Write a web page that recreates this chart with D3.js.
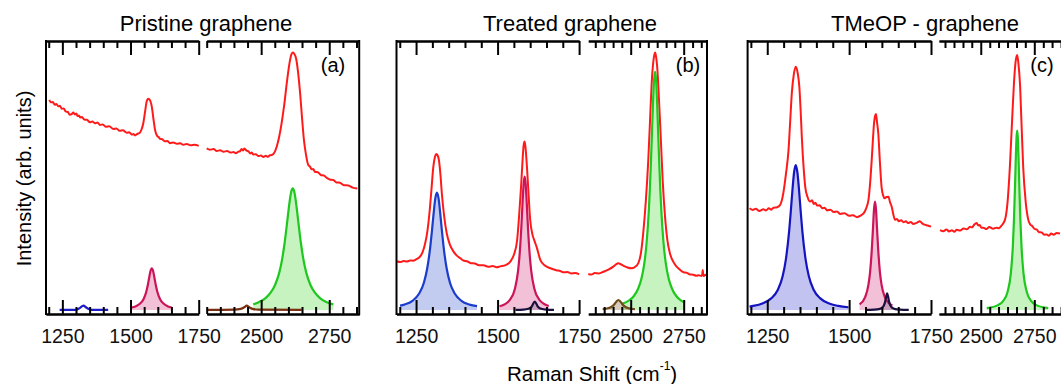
<!DOCTYPE html>
<html>
<head>
<meta charset="utf-8">
<script src="https://cdn.jsdelivr.net/npm/d3@7"></script>
<style>
  body { margin: 0; background: #fff; }
  svg { font-family: "Liberation Sans", Arial, sans-serif; }
  .axis .domain, .axis line { stroke: #000; stroke-width: 2; }
</style>
</head>
<body>
<div id="chart"></div>
<script>
// ---- data: [Raman shift (cm-1), intensity (arb.)] ----
var panelTitles = ["Pristine graphene", "Treated graphene", "TMeOP - graphene"];
var panelTags = ["(a)", "(b)", "(c)"];

var lowMajorTicks = [1250, 1500, 1750];
var lowMinorTicks = [1200, 1300, 1350, 1400, 1450, 1550, 1600, 1650, 1700];
var highMajorTicks = [2500, 2750];
var highMinorTicksA = [2300, 2350, 2400, 2450, 2550, 2600, 2650, 2700, 2800, 2850];
var highMinorTicksBC = [2333, 2375, 2417, 2458, 2542, 2583, 2625, 2667, 2708, 2792, 2833, 2875];

// panel (a)
var redLowA = [[1202,78.1],[1208,77.2],[1215,77.3],[1222,76.3],[1228,76.6],[1235,75.7],[1241,75.9],[1248,74.8],[1255,74.9],[1262,73.8],[1270,73.6],[1277,72.6],[1284,72.8],[1290,73.4],[1296,72.7],[1301,73.0],[1306,72.1],[1311,72.3],[1315,71.6],[1322,71.7],[1330,70.8],[1340,70.7],[1351,69.8],[1360,70.1],[1370,69.4],[1379,69.7],[1388,68.8],[1398,69.0],[1410,68.1],[1422,68.3],[1437,67.3],[1448,67.5],[1460,66.6],[1472,66.8],[1486,65.9],[1495,66.1],[1505,65.2],[1511,65.4],[1516,64.9],[1526,65.5],[1532,65.7],[1540,67.0],[1547,69.5],[1553,73.5],[1559,77.4],[1565,78.5],[1568,78.4],[1573,77.6],[1578,75.6],[1584,71.0],[1590,66.9],[1598,64.6],[1604,64.2],[1608,63.6],[1616,63.5],[1625,62.7],[1635,62.8],[1645,62.0],[1657,62.3],[1670,61.8],[1682,62.0],[1693,61.4],[1706,61.7],[1720,61.2],[1735,61.4],[1750,61.0]];
var redHighA = [[2300,60.1],[2312,59.6],[2325,59.8],[2337,59.1],[2349,59.4],[2362,58.8],[2375,59.1],[2387,58.5],[2398,58.7],[2407,58.3],[2415,58.8],[2422,59.0],[2428,59.8],[2433,59.3],[2438,60.0],[2447,59.2],[2454,58.9],[2460,58.2],[2466,58.5],[2471,57.8],[2480,57.9],[2490,57.2],[2499,57.4],[2508,56.9],[2517,57.3],[2525,57.0],[2532,57.5],[2539,57.6],[2550,58.8],[2557,60.7],[2566,64.3],[2575,69.4],[2585,76.5],[2594,84.3],[2600,89.0],[2606,92.9],[2611,95.0],[2616,95.7],[2622,95.2],[2628,93.6],[2636,88.0],[2643,80.6],[2650,71.5],[2657,63.2],[2665,57.5],[2673,53.9],[2680,53.2],[2685,52.3],[2691,52.4],[2698,51.3],[2708,51.2],[2720,50.1],[2730,50.0],[2741,49.1],[2752,48.5],[2765,48.3],[2777,47.4],[2789,47.3],[2804,46.4],[2820,46.3],[2836,45.5],[2853,45.2]];
var dBandA = [[1240,0],[1290,0],[1305,0.2],[1315,0.8],[1327,1.6],[1339,0.8],[1350,0.2],[1365,0],[1418,0]];
var gBandA = [[1504,0.9],[1518,1.3],[1533,2.2],[1548,4.1],[1558,6.9],[1563,9.1],[1568,11.8],[1573,14.4],[1578,15.5],[1583,14.4],[1588,11.8],[1593,9.1],[1598,6.9],[1608,4.1],[1623,2.2],[1638,1.3],[1651,0.9]];
var dgBandA = [[2300,0],[2400,0.1],[2425,0.4],[2438,1.0],[2447,1.6],[2456,1.0],[2468,0.4],[2490,0.1],[2649,0]];
var twoDBandA = [[2471,2.1],[2491,2.9],[2516,4.4],[2536,6.6],[2551,9.3],[2566,13.7],[2576,18.3],[2586,24.8],[2596,33.1],[2601,37.5],[2606,41.4],[2611,44.2],[2616,45.2],[2621,44.2],[2626,41.4],[2631,37.5],[2636,33.1],[2646,24.8],[2656,18.3],[2666,13.7],[2681,9.3],[2696,6.6],[2716,4.4],[2741,2.9],[2765,2.1]];

// panel (b)
var redLowB = [[1192,18.1],[1201,17.8],[1212,18.2],[1222,18.0],[1232,18.4],[1241,18.3],[1250,18.8],[1262,19.8],[1270,21.5],[1278,24.8],[1285,29.5],[1291,35.9],[1297,44.5],[1303,53.3],[1308,57.0],[1312,58.0],[1316,57.5],[1320,55.8],[1325,50.0],[1329,43.4],[1336,35.0],[1344,28.5],[1354,24.2],[1365,21.7],[1375,20.2],[1385,19.3],[1395,18.4],[1406,18.1],[1418,17.4],[1430,17.3],[1443,16.6],[1457,16.6],[1471,16.1],[1485,16.3],[1497,15.9],[1508,16.2],[1525,16.7],[1539,18.0],[1550,20.5],[1560,26.0],[1566,35.0],[1572,45.8],[1577,56.5],[1580,61.3],[1583,62.6],[1586,60.0],[1590,53.3],[1595,43.0],[1600,33.5],[1607,28.0],[1614,25.4],[1621,22.9],[1631,18.6],[1645,16.5],[1662,15.5],[1680,14.8],[1692,14.5],[1703,14.0],[1714,14.1],[1725,13.6],[1738,13.7],[1750,13.2]];
var redHighB = [[2300,13.4],[2315,13.2],[2330,13.7],[2350,13.6],[2371,14.2],[2395,15.0],[2418,16.1],[2430,16.9],[2442,17.4],[2453,17.0],[2465,16.5],[2485,15.8],[2505,15.5],[2520,16.0],[2536,17.4],[2548,21.0],[2559,28.5],[2571,40.0],[2583,55.8],[2591,70.0],[2599,84.3],[2607,92.5],[2615,95.7],[2620,94.0],[2625,90.4],[2633,79.0],[2641,65.7],[2651,48.0],[2662,34.7],[2673,26.0],[2685,21.1],[2708,17.0],[2733,14.9],[2750,14.0],[2765,13.8],[2780,13.2],[2795,13.1],[2810,12.7],[2820,12.9],[2835,12.6],[2838,13.5],[2840,14.9],[2842,13.0],[2845,12.6],[2852,13.1],[2860,13.0]];
var dBandB = [[1201,1.6],[1214,2.0],[1239,3.4],[1259,6.0],[1274,10.1],[1284,15.3],[1294,23.9],[1299,29.8],[1304,36.1],[1309,41.5],[1314,43.6],[1319,41.5],[1324,36.1],[1329,29.8],[1334,23.9],[1344,15.3],[1354,10.1],[1369,6.0],[1389,3.4],[1414,2.0],[1437,1.4]];
var gBandB = [[1506,1.4],[1523,2.2],[1538,3.8],[1553,7.8],[1563,14.7],[1568,21.3],[1573,31.2],[1577,40.9],[1580,47.1],[1583,49.6],[1586,47.1],[1589,40.9],[1593,31.2],[1598,21.3],[1603,14.7],[1613,7.8],[1628,3.8],[1643,2.2],[1657,1.5]];
var dPrimeBandB = [[1555,0.05],[1579,0.15],[1594,0.43],[1602,0.95],[1606,1.55],[1610,2.5],[1614,3.1],[1618,2.5],[1622,1.55],[1626,0.95],[1634,0.43],[1649,0.15],[1673,0.05]];
var dgBandB = [[2368,0.3],[2382,0.44],[2397,0.71],[2412,1.29],[2422,2.02],[2432,3.07],[2442,3.7],[2452,3.07],[2462,2.02],[2472,1.29],[2487,0.71],[2502,0.44],[2520,0.3]];
var twoDBandB = [[2457,2.2],[2495,3.7],[2515,5.2],[2535,7.9],[2550,11.4],[2565,17.7],[2575,24.9],[2585,36.3],[2590,44.3],[2595,54.0],[2600,65.1],[2605,76.4],[2610,85.2],[2615,88.6],[2620,85.2],[2625,76.4],[2630,65.1],[2635,54.0],[2640,44.3],[2645,36.3],[2655,24.9],[2665,17.7],[2680,11.4],[2695,7.9],[2715,5.2],[2735,3.7],[2756,2.7]];

// panel (c)
var redLowC = [[1196,37.8],[1205,37.2],[1215,37.6],[1226,36.8],[1238,37.4],[1246,37.0],[1255,37.8],[1262,37.3],[1269,38.0],[1280,38.2],[1289,39.0],[1295,41.0],[1299,43.4],[1307,50.5],[1315,59.5],[1320,70.0],[1325,80.6],[1331,87.5],[1337,90.4],[1343,88.0],[1348,83.0],[1352,74.0],[1356,63.2],[1361,53.0],[1366,45.8],[1373,42.0],[1381,40.3],[1387,40.8],[1392,39.4],[1397,39.9],[1402,38.8],[1410,38.9],[1418,37.8],[1425,38.0],[1433,37.0],[1443,37.3],[1453,36.4],[1463,36.6],[1473,35.7],[1486,36.0],[1500,35.0],[1512,35.2],[1524,34.5],[1535,35.1],[1544,35.9],[1552,37.8],[1559,40.9],[1564,47.0],[1569,55.8],[1573,64.0],[1576,69.4],[1579,72.0],[1582,72.9],[1585,70.0],[1589,65.7],[1594,55.0],[1599,45.8],[1604,42.5],[1609,41.5],[1614,42.0],[1620,42.1],[1625,40.0],[1630,38.4],[1635,35.5],[1640,33.5],[1646,33.8],[1652,33.0],[1659,33.4],[1666,32.6],[1673,33.0],[1680,32.3],[1688,32.7],[1696,32.0],[1706,32.4],[1716,33.0],[1723,32.2],[1730,31.7],[1740,31.4],[1750,31.0]];
var redHighC = [[2310,29.7],[2325,29.3],[2340,29.9],[2352,29.2],[2365,29.6],[2376,29.1],[2388,29.8],[2404,29.5],[2420,30.3],[2435,30.0],[2450,30.9],[2460,30.7],[2470,31.8],[2481,32.3],[2488,31.4],[2495,31.6],[2503,30.6],[2512,30.6],[2526,30.1],[2540,30.8],[2557,30.2],[2574,30.6],[2585,30.4],[2595,31.2],[2613,33.5],[2625,40.0],[2636,53.3],[2646,70.0],[2655,84.3],[2663,92.5],[2670,94.8],[2676,91.5],[2683,84.3],[2690,70.0],[2698,53.3],[2710,40.0],[2722,33.5],[2731,31.8],[2740,31.2],[2750,30.2],[2761,29.9],[2773,28.9],[2785,28.8],[2796,28.0],[2807,28.1],[2818,27.6],[2829,28.4],[2840,28.0],[2855,28.6],[2870,28.4]];
var dBandC = [[1196,1.3],[1207,1.5],[1237,2.5],[1262,4.3],[1282,7.4],[1297,12.5],[1307,18.9],[1317,29.5],[1322,36.8],[1327,44.7],[1332,51.2],[1337,53.9],[1342,51.2],[1347,44.7],[1352,36.8],[1357,29.5],[1367,18.9],[1377,12.5],[1392,7.4],[1412,4.3],[1437,2.5],[1467,1.5],[1498,1.0]];
var gBandC = [[1532,2.1],[1549,4.8],[1559,9.4],[1564,14.1],[1569,22.0],[1573,30.7],[1576,37.5],[1579,40.3],[1582,37.5],[1585,30.7],[1589,22.0],[1594,14.1],[1599,9.4],[1609,4.8],[1620,2.7],[1632,1.7]];
var dPrimeBandC = [[1550,0.05],[1576,0.15],[1591,0.34],[1601,0.86],[1606,1.65],[1610,3.1],[1613,4.96],[1616,6.2],[1619,4.96],[1622,3.1],[1626,1.65],[1631,0.86],[1641,0.34],[1656,0.15],[1682,0.05]];
var twoDBandC = [[2528,0.7],[2580,1.8],[2605,3.4],[2625,6.7],[2640,13.3],[2650,24.0],[2655,33.4],[2660,46.2],[2664,57.5],[2667,64.1],[2670,66.7],[2673,64.1],[2676,57.5],[2680,46.2],[2685,33.4],[2690,24.0],[2700,13.3],[2715,6.7],[2735,3.4],[2760,1.8],[2815,0.7]];

// ---- styles of the traces ----
var styles = {
  red:   {stroke: "#ff1a1a", fill: null},
  dA:    {stroke: "#1c1cc8", fill: null},
  d:     {stroke: "#1c3ccc", fill: "rgba(70,100,210,0.33)"},
  dC:    {stroke: "#1414c0", fill: "rgba(90,90,220,0.36)"},
  g:     {stroke: "#cc1458", fill: "rgba(215,60,130,0.32)"},
  dp:    {stroke: "#1a1040", fill: "rgba(60,50,90,0.22)"},
  dgA:   {stroke: "#7a3010", fill: null},
  dg:    {stroke: "#6e4c1a", fill: "rgba(130,100,50,0.32)"},
  twoD:  {stroke: "#1ec81e", fill: "rgba(70,215,50,0.30)"}
};

var panels = [
  {seg: [
    {side: "low", fills: [[gBandA, "g"]], lines: [[redLowA, "red"], [dBandA, "dA"], [gBandA, "g"]]},
    {side: "high", fills: [[twoDBandA, "twoD"]], lines: [[redHighA, "red"], [twoDBandA, "twoD"], [dgBandA, "dgA"]]}
  ], minorHigh: highMinorTicksA},
  {seg: [
    {side: "low", fills: [[dBandB, "d"], [gBandB, "g"], [dPrimeBandB, "dp"]], lines: [[redLowB, "red"], [dBandB, "d"], [gBandB, "g"], [dPrimeBandB, "dp"]]},
    {side: "high", fills: [[twoDBandB, "twoD"], [dgBandB, "dg"]], lines: [[redHighB, "red"], [twoDBandB, "twoD"], [dgBandB, "dg"]]}
  ], minorHigh: highMinorTicksBC},
  {seg: [
    {side: "low", fills: [[dBandC, "dC"], [gBandC, "g"], [dPrimeBandC, "dp"]], lines: [[redLowC, "red"], [dBandC, "dC"], [gBandC, "g"], [dPrimeBandC, "dp"]]},
    {side: "high", fills: [[twoDBandC, "twoD"]], lines: [[redHighC, "red"], [twoDBandC, "twoD"]]}
  ], minorHigh: highMinorTicksBC}
];

// ---- layout ----
var width = 1061, height = 384;
var plotTop = 41, plotBottom = 314;
var layout = [
  {low: [46, 198.7], high: [206.7, 359.2], highDomain: [2300, 2860], border: true, title: 206, tag: 333},
  {low: [396.5, 579.1], high: [588.3, 707], highDomain: [2300, 2860], border: true, title: 570, tag: 688},
  {low: [747.6, 931], high: [939, 1063], highDomain: [2305, 2884], border: false, title: 925, tag: 1042}
];
var lowDomain = [1190, 1750];

var svg = d3.select("#chart").append("svg")
  .attr("width", width)
  .attr("height", height);

var y = d3.scaleLinear().domain([-1.5, 100]).range([plotBottom, plotTop]);

panels.forEach(function (p, i) {
  var L = layout[i];
  var g = svg.append("g");
  var scales = {
    low: d3.scaleLinear().domain(lowDomain).range(L.low),
    high: d3.scaleLinear().domain(L.highDomain).range(L.high)
  };

  p.seg.forEach(function (s) {
    var x = scales[s.side];
    var line = d3.line()
      .x(function (d) { return x(d[0]); })
      .y(function (d) { return y(d[1]); })
      .curve(d3.curveMonotoneX);
    var area = d3.area()
      .x(function (d) { return x(d[0]); })
      .y0(y(0))
      .y1(function (d) { return y(d[1]); })
      .curve(d3.curveMonotoneX);

    s.fills.forEach(function (f) {
      g.append("path").datum(f[0])
        .attr("d", area)
        .attr("fill", styles[f[1]].fill)
        .attr("stroke", "none");
    });
    s.lines.forEach(function (l) {
      g.append("path").datum(l[0])
        .attr("d", line)
        .attr("fill", "none")
        .attr("stroke", styles[l[1]].stroke)
        .attr("stroke-width", l[1] === "red" ? 2 : 2.2)
        .attr("stroke-linejoin", "round");
    });
  });

  // axes: each segment gets top and bottom, minor + major
  [["low", lowMinorTicks, lowMajorTicks], ["high", p.minorHigh, highMajorTicks]].forEach(function (a) {
    var x = scales[a[0]];
    var minor = a[1].filter(function (v) { return v >= x.domain()[0] && v <= x.domain()[1]; });
    g.append("g").attr("class", "axis")
      .attr("transform", "translate(0," + plotTop + ")")
      .call(d3.axisTop(x).tickValues(minor).tickSize(-7).tickSizeOuter(0).tickFormat(""));
    g.append("g").attr("class", "axis")
      .attr("transform", "translate(0," + plotTop + ")")
      .call(d3.axisTop(x).tickValues(a[2]).tickSize(-14).tickSizeOuter(0).tickFormat(""));
    g.append("g").attr("class", "axis")
      .attr("transform", "translate(0," + plotBottom + ")")
      .call(d3.axisBottom(x).tickValues(minor).tickSize(-7).tickSizeOuter(0).tickFormat(""));
    g.append("g").attr("class", "axis")
      .attr("transform", "translate(0," + plotBottom + ")")
      .call(d3.axisBottom(x).tickValues(a[2]).tickSize(-14).tickSizeOuter(0).tickPadding(15).tickFormat(d3.format("d")));
  });
  g.selectAll(".axis").attr("font-family", null).attr("font-size", null);
  g.selectAll(".axis text").style("font-size", "19.5px").style("fill", "#111");

  // frame sides
  g.append("line")
    .attr("x1", L.low[0]).attr("x2", L.low[0])
    .attr("y1", plotTop - 1).attr("y2", plotBottom + 1)
    .attr("stroke", "#000").attr("stroke-width", 2);
  if (L.border) {
    g.append("line")
      .attr("x1", L.high[1]).attr("x2", L.high[1])
      .attr("y1", plotTop - 1).attr("y2", plotBottom + 1)
      .attr("stroke", "#000").attr("stroke-width", 2);
  }

  g.append("text")
    .attr("x", L.title).attr("y", 31)
    .attr("text-anchor", "middle")
    .style("font-size", "22px")
    .text(panelTitles[i]);

  g.append("text")
    .attr("x", L.tag).attr("y", 72)
    .attr("text-anchor", "middle")
    .style("font-size", "20px")
    .text(panelTags[i]);
});

// axis titles
svg.append("text")
  .attr("transform", "translate(30.5,178.5) rotate(-90)")
  .attr("text-anchor", "middle")
  .style("font-size", "20px")
  .text("Intensity (arb. units)");

var xt = svg.append("text")
  .attr("x", 507).attr("y", 381)
  .style("font-size", "20.5px");
xt.append("tspan").text("Raman Shift (cm");
xt.append("tspan").attr("dy", -11).style("font-size", "12px").text("-1");
xt.append("tspan").attr("dy", 11).text(")");
</script>
</body>
</html>
